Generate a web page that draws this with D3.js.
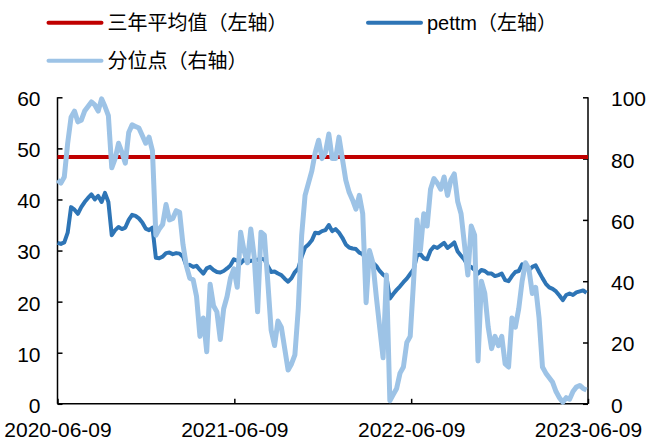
<!DOCTYPE html>
<html>
<head>
<meta charset="utf-8">
<script src="https://cdn.jsdelivr.net/npm/d3@7"></script>
<style>
  html, body { margin: 0; padding: 0; background: #fff; }
  svg { display: block; }
</style>
</head>
<body>
<svg id="chart" width="654" height="445"></svg>
<script>
// Weekly observations starting 2020-06-09
const startDate = "2020-06-09";
const endDate = "2023-06-09";

// PE (TTM), left axis
const pettm = [
  31.5, 31.3, 31.6, 33.5, 38.5, 38.0, 37.2, 38.5, 39.5, 40.3,
  41.0, 40.0, 40.7, 39.5, 41.3, 39.5, 33.0, 34.0, 34.6, 34.2,
  34.5, 36.0, 37.0, 36.8, 36.3, 35.5, 34.3, 34.0, 34.5, 28.6,
  28.5, 28.8, 29.5, 29.6, 29.3, 29.5, 29.4, 28.8, 27.0, 27.2,
  26.8, 27.0, 26.2, 25.5, 26.5, 26.8, 26.2, 25.8, 25.7, 26.0,
  26.5, 27.1, 28.3, 28.0, 27.5, 28.2, 27.8, 28.0, 28.0, 28.2,
  28.4, 28.3, 27.0, 25.8, 25.9, 25.5, 25.2, 24.5, 23.9, 24.6,
  25.8, 26.5, 28.8, 30.6, 31.2, 32.0, 33.5, 33.4, 33.8, 34.0,
  35.0, 33.8, 34.2, 33.5, 32.5, 31.2, 30.6, 30.4, 30.3, 29.6,
  29.3, 28.2, 28.0, 27.6, 27.0, 26.0, 25.3, 24.8, 20.6, 21.5,
  22.3, 23.0, 23.8, 24.5, 25.4, 26.3, 29.0, 29.3, 28.5, 28.3,
  30.0, 30.8, 30.5, 31.0, 31.5, 30.5, 31.0, 31.6, 29.8, 29.0,
  28.2, 27.0, 26.8, 26.2, 25.5, 26.2, 26.0, 25.5, 25.5, 25.0,
  25.2, 25.5, 24.2, 24.0, 25.0, 25.8, 26.0, 27.3, 26.5, 26.2,
  26.8, 27.1, 25.8, 24.6, 23.5, 22.8, 22.5, 22.0, 21.2, 20.3,
  21.3, 21.6, 21.3, 21.8, 22.0, 22.2, 21.7
];

// Historical percentile of PE, right axis
const percentile = [
  73, 72, 74, 85, 93.5, 95.5, 92, 92.5, 95.5, 97,
  98.5, 97.5, 95.5, 99.5, 97, 94, 77, 80, 85, 82,
  78.5, 88.5, 91, 90.5, 90, 87.5, 85, 87, 82.5, 55,
  57, 58.5, 65, 60, 60.5, 63, 62.5, 52, 45, 41,
  40.5, 35, 22, 28, 17, 39, 32, 30, 21, 31,
  35, 41, 44, 38, 56, 50, 46, 57, 48, 30,
  56, 55, 40, 24, 19, 27, 25, 18, 11, 13,
  16, 31, 55, 68, 72, 76, 82, 86, 80, 82,
  88, 80, 80, 87, 80, 73, 69, 66.5, 63.5, 68,
  62, 33, 50, 46, 35, 25, 15, 42, 1, 3,
  5, 10, 12, 20, 22, 40, 60, 50, 62, 58,
  70, 73.5, 72, 70, 74, 68, 73, 75, 66, 62,
  52, 42, 58, 55, 14, 40, 36, 25, 18, 22,
  19, 22, 13, 12, 28, 25, 31, 40, 46, 44,
  36, 38, 28, 12, 10, 8.5, 7, 4, 2, 0.5,
  2, 1.5, 4, 5.5, 6, 5, 4.5
];

// Three-year average PE, left axis
const threeYearAvg = 48.3;

const leftTicks = [0, 10, 20, 30, 40, 50, 60];
const rightTicks = [0, 20, 40, 60, 80, 100];
const xTickLabels = ["2020-06-09", "2021-06-09", "2022-06-09", "2023-06-09"];

const legendItems = [
  { label: "三年平均值（左轴）", color: "#C00000" },
  { label: "pettm（左轴）", color: "#2E75B6" },
  { label: "分位点（右轴）", color: "#9DC3E6" }
];

const parse = d3.timeParse("%Y-%m-%d");
const t0 = parse(startDate);
const dates = pettm.map((_, i) => d3.timeDay.offset(t0, 7 * i));

const svg = d3.select("#chart");
const plot = { left: 57.5, right: 588, top: 97.3, bottom: 403.8 };

const x = d3.scaleTime()
  .domain([t0, parse(endDate)])
  .range([plot.left, plot.right]);
const yL = d3.scaleLinear().domain([0, 60]).range([plot.bottom, plot.top]);
const yR = d3.scaleLinear().domain([0, 100]).range([plot.bottom, plot.top]);

const latin = "'Liberation Sans', Arial, sans-serif";
const cjk = "'Liberation Sans', 'Noto Sans CJK SC', sans-serif";

// Axes
const axisLeft = d3.axisLeft(yL).tickValues(leftTicks).tickSize(-5).tickPadding(17);
const axisRight = d3.axisRight(yR).tickValues(rightTicks).tickSize(-5).tickPadding(23);
const axisBottom = d3.axisBottom(x)
  .tickValues(xTickLabels.map(parse))
  .tickSize(-5).tickPadding(18)
  .tickFormat((d, i) => xTickLabels[i]);

function styleAxis(g) {
  g.select(".domain").attr("stroke", "#000").attr("stroke-width", 1.5);
  g.selectAll(".tick line").attr("stroke", "#000").attr("stroke-width", 1.5);
  g.selectAll(".tick text")
    .attr("fill", "#000")
    .style("font-family", latin)
    .style("font-size", "21px");
}

svg.append("g")
  .attr("transform", `translate(${plot.left},0)`)
  .call(axisLeft)
  .call(g => g.select(".domain").attr("d", `M0,${plot.top}V${plot.bottom}`))
  .call(styleAxis)
  .call(g => g.selectAll(".tick text").attr("dy", "0.4em"));

svg.append("g")
  .attr("transform", `translate(${plot.right},0)`)
  .call(axisRight)
  .call(g => g.select(".domain").attr("d", `M0,${plot.top}V${plot.bottom}`))
  .call(styleAxis)
  .call(g => g.selectAll(".tick text").attr("dy", "0.4em"));

svg.append("g")
  .attr("transform", `translate(0,${plot.bottom})`)
  .call(axisBottom)
  .call(g => g.select(".domain").attr("d", `M${plot.left},0H${plot.right}`))
  .call(styleAxis);

// Series
const series = svg.append("g");

series.append("line")
  .attr("x1", plot.left).attr("x2", plot.right)
  .attr("y1", yL(threeYearAvg)).attr("y2", yL(threeYearAvg))
  .attr("stroke", legendItems[0].color)
  .attr("stroke-width", 4);

const lineL = d3.line().x((d, i) => x(dates[i])).y(d => yL(d));
const lineR = d3.line().x((d, i) => x(dates[i])).y(d => yR(d));

series.append("path")
  .datum(pettm)
  .attr("d", lineL)
  .attr("fill", "none")
  .attr("stroke", legendItems[1].color)
  .attr("stroke-width", 4)
  .attr("stroke-linejoin", "round");

series.append("path")
  .datum(percentile)
  .attr("d", lineR)
  .attr("fill", "none")
  .attr("stroke", legendItems[2].color)
  .attr("stroke-width", 5)
  .attr("stroke-linejoin", "round");

// Legend
const legendPos = [
  { x: 48.5, y: 22.7 },
  { x: 368, y: 22.7 },
  { x: 48.5, y: 60.7 }
];
const legend = svg.append("g");
legendItems.forEach((item, i) => {
  const p = legendPos[i];
  legend.append("line")
    .attr("x1", p.x).attr("x2", p.x + 53)
    .attr("y1", p.y).attr("y2", p.y)
    .attr("stroke", item.color)
    .attr("stroke-width", 4)
    .attr("stroke-linecap", "round");
  legend.append("text")
    .attr("x", p.x + 59)
    .attr("y", p.y)
    .attr("dy", "0.36em")
    .attr("fill", "#000")
    .style("font-family", cjk)
    .style("font-size", "20px")
    .text(item.label);
});
</script>
</body>
</html>
